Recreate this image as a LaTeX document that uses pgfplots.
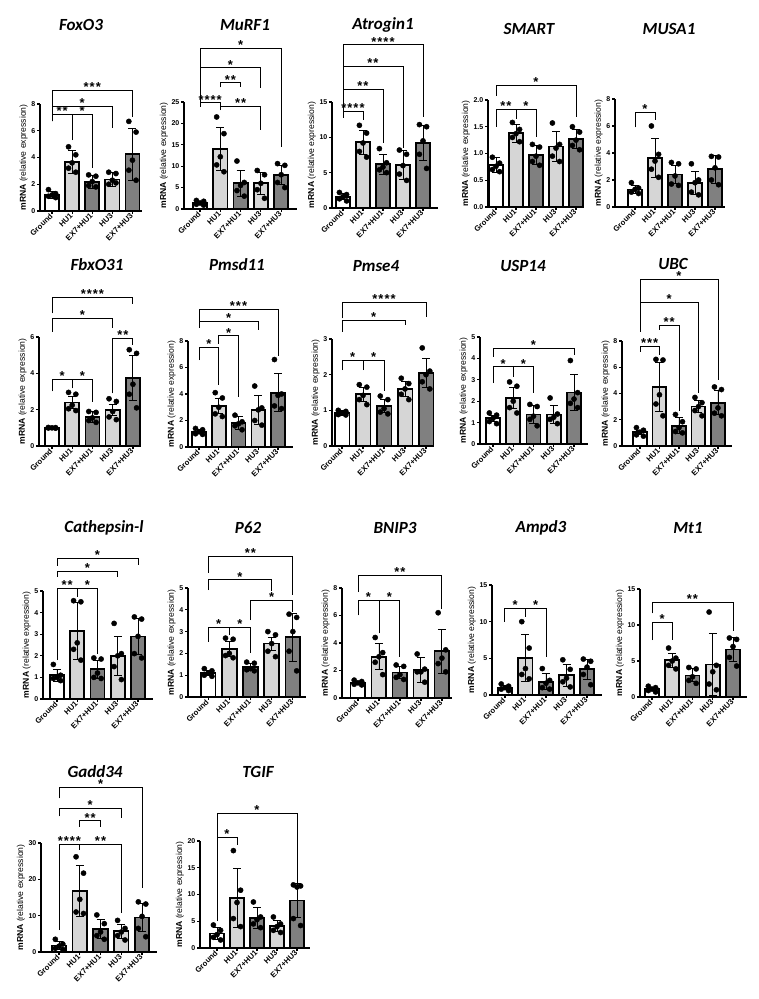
\documentclass[border=0pt]{standalone}
\usepackage{fontspec}
\setmainfont{Liberation Sans}
\newfontfamily\titlefont{Carlito}
\usepackage{pgfplots}
\pgfplotsset{compat=1.18}
\definecolor{lg}{gray}{0.84}
\definecolor{dg}{gray}{0.5}
\pgfplotsset{
  panel/.style={
    scale only axis, clip=false, axis lines=left, anchor=south west,
    axis line style={-, line width=1.5pt},
    enlargelimits=false, ymin=0,
    xtick={0,1,2,3,4},
    xticklabels={Ground,HU1,EX7+HU1,HU3,EX7+HU3},
    x tick label style={rotate=45, anchor=east, font=\fontsize{7.7}{8}\selectfont\bfseries, inner sep=1pt},
    y tick label style={font=\fontsize{7}{8}\selectfont\bfseries, inner sep=1.5pt},
    /pgf/number format/assume math mode=true,
    tick align=outside, major tick length=3pt,
    tick style={line width=1.2pt, black},
    ylabel={\textbf{mRNA} (relative expression)},
    ylabel style={font=\fontsize{8.6}{10}\selectfont, inner sep=2pt},
  },
  barbase/.style={ybar, bar width=0.7, bar shift=0pt, draw=black, line width=1.7pt,
    error bars/.cd, y dir=both, y explicit,
    error bar style={line width=0.9pt, black},
    error mark options={rotate=90, mark size=4pt, line width=0.9pt, black}},
  bw/.style={fill=white, barbase},
  bl/.style={fill=lg, barbase},
  bd/.style={fill=dg, barbase},
  dots/.style={only marks, mark=*, mark size=2.6pt, black, mark options={fill=black}},
  brk/.style={black, line width=0.9pt, mark=none, sharp plot},
}
\tikzset{lab/.style={anchor=south, inner sep=0pt, yshift=-1.5pt, font=\fontsize{13}{13}\selectfont\bfseries},
  ttl/.style={font=\titlefont\bfseries\itshape\fontsize{17}{17}\selectfont}}
\newcommand\br[7]{%
  \addplot[brk] coordinates {(#1,#4) (#1,#3) (#2,#3) (#2,#5)};
  \node[lab] at (axis cs:#6,#3) {#7};}
\newcommand\sA{*}
\newcommand\sB{*\kern1pt*}
\newcommand\sC{*\kern1pt*\kern1pt*}
\newcommand\sD{*\kern1pt*\kern1pt*\kern1pt*}
\begin{document}
\begin{tikzpicture}
\useasboundingbox (0pt,0pt) rectangle (759pt,999pt);
% ---------------- Row 1
\node[ttl] at (81pt,974pt) {FoxO3};
\begin{axis}[panel, at={(40pt,788pt)}, width=102pt, height=107pt, xmin=-0.6, xmax=4.475, ymax=8, ytick={0,2,4,6,8}]
\addplot[bw] coordinates {(0,1.2) +- (0,0.25)};
\addplot[bl] coordinates {(1,3.65) +- (0,0.85) (3,2.35) +- (0,0.5)};
\addplot[bd] coordinates {(2,2.15) +- (0,0.5) (4,4.25) +- (0,1.95)};
\addplot[dots] coordinates {(-0.18,1.6)(0.18,1.3)(0,1.2)(-0.18,1.1)(0.18,1.0)
(0.82,4.8)(1.18,4.2)(1,3.6)(0.82,3.2)(1.18,2.9)
(1.82,2.7)(2.18,2.6)(2,2.2)(1.82,1.9)(2.18,1.8)
(2.82,2.9)(3.18,2.8)(3,2.3)(2.82,2.0)(3.18,2.1)
(3.82,6.7)(4.18,5.9)(4,3.8)(3.82,3.05)(4.18,2.3)};
\br{0}{4}{9.0}{6.7}{7.0}{2}{\sC}
\br{0}{3}{7.85}{6.7}{6.2}{1.5}{\sA}
\br{0}{1}{7.25}{6.7}{5.3}{0.5}{\sB}
\br{1}{2}{7.25}{5.3}{3.2}{1.5}{\sA}
\end{axis}
\node[ttl] at (245pt,974pt) {MuRF1};
\begin{axis}[panel, at={(184pt,790pt)}, width=113pt, height=107pt, xmin=-0.79, xmax=4.78, ymax=25, ytick={0,5,10,15,20,25}]
\addplot[bw] coordinates {(0,1.4) +- (0,0.4)};
\addplot[bl] coordinates {(1,14.0) +- (0,5.1) (3,6.0) +- (0,2.5)};
\addplot[bd] coordinates {(2,6.0) +- (0,3.0) (4,8.0) +- (0,2.2)};
\addplot[dots] coordinates {(-0.18,2.0)(0.18,1.8)(0,1.4)(-0.18,1.1)(0.18,0.9)
(0.82,21.5)(1.18,17.6)(1,12.2)(0.82,10.3)(1.18,8.7)
(1.82,11.2)(2.18,6.2)(2,5.5)(1.82,4.3)(2.18,3.0)
(2.82,9.0)(3.18,8.0)(3,6.0)(2.82,4.5)(3.18,2.5)
(3.82,10.6)(4.18,10.2)(4,8.0)(3.82,6.2)(4.18,5.0)};
\br{0}{4}{37.5}{24.7}{14.6}{2}{\sA}
\br{0}{3}{33}{24.7}{28.2}{1.5}{\sA}
\br{1}{2}{29.5}{28.4}{28.4}{1.5}{\sB}
\br{0}{1}{24.8}{23.9}{23.1}{0.5}{\sD}
\br{1}{3}{24.0}{23.1}{18.5}{2}{\sB}
\end{axis}
\node[ttl] at (383pt,974pt) {Atrogin1};
\begin{axis}[panel, at={(332pt,791pt)}, width=106pt, height=106pt, xmin=-0.55, xmax=4.75, ymax=15, ytick={0,5,10,15}]
\addplot[bw] coordinates {(0,1.6) +- (0,0.4)};
\addplot[bl] coordinates {(1,9.3) +- (0,1.7) (3,6.1) +- (0,2.0)};
\addplot[bd] coordinates {(2,6.2) +- (0,1.4) (4,9.2) +- (0,2.5)};
\addplot[dots] coordinates {(-0.18,2.2)(0.18,1.9)(0,1.6)(-0.18,1.3)(0.18,1.0)
(0.82,11.7)(1.18,10.6)(1,9.2)(0.82,8.0)(1.18,7.2)
(1.82,8.4)(2.18,6.4)(2,5.8)(1.82,5.4)(2.18,5.0)
(2.82,8.2)(3.18,7.6)(3,6.0)(2.82,4.8)(3.18,3.9)
(3.82,11.8)(4.18,11.5)(4,9.5)(3.82,7.6)(4.18,5.6)};
\br{0}{4}{23.1}{12.8}{12.9}{2}{\sD}
\br{0}{3}{20.0}{12.8}{8.5}{1.5}{\sB}
\br{0}{2}{16.8}{12.8}{9.2}{1}{\sB}
\br{0}{1}{13.7}{12.8}{12.4}{0.5}{\sD}
\end{axis}
\node[ttl] at (529pt,970pt) {SMART};
\begin{axis}[panel, at={(488pt,792pt)}, width=96pt, height=107pt, xmin=-0.4, xmax=4.4, ymax=2, ytick={0,0.5,1,1.5,2},
  yticklabel style={/pgf/number format/.cd, fixed, fixed zerofill, precision=1}]
\addplot[bw] coordinates {(0,0.78) +- (0,0.14)};
\addplot[bl] coordinates {(1,1.38) +- (0,0.17) (3,1.13) +- (0,0.28)};
\addplot[bd] coordinates {(2,0.97) +- (0,0.18) (4,1.27) +- (0,0.18)};
\addplot[dots] coordinates {(-0.18,0.93)(0.18,0.82)(0,0.76)(-0.18,0.7)(0.18,0.66)
(0.82,1.58)(1.18,1.45)(1,1.37)(0.82,1.3)(1.18,1.22)
(1.82,1.17)(2.18,1.12)(2,0.95)(1.82,0.85)(2.18,0.78)
(2.82,1.57)(3.18,1.17)(3,1.1)(2.82,0.95)(3.18,0.85)
(3.82,1.5)(4.18,1.4)(4,1.25)(3.82,1.15)(4.18,1.07)};
\br{0}{4}{2.28}{2.08}{1.68}{2}{\sA}
\br{0}{1}{1.83}{1.5}{1.65}{0.5}{\sB}
\br{1}{2}{1.83}{1.65}{1.3}{1.5}{\sA}
\end{axis}
\node[ttl] at (669pt,970pt) {MUSA1};
\begin{axis}[panel, at={(615pt,792pt)}, width=110pt, height=108pt, xmin=-1.0, xmax=4.5, ymax=8, ytick={0,2,4,6,8}]
\addplot[bw] coordinates {(0,1.3) +- (0,0.3)};
\addplot[bl] coordinates {(1,3.65) +- (0,1.45) (3,1.8) +- (0,0.85)};
\addplot[bd] coordinates {(2,2.4) +- (0,0.65) (4,2.8) +- (0,1.05)};
\addplot[dots] coordinates {(-0.18,1.8)(0.18,1.4)(0,1.3)(-0.18,1.1)(0.18,1.0)
(0.82,6.0)(1.18,3.9)(1,3.4)(0.82,2.8)(1.18,2.2)
(1.82,3.3)(2.18,3.2)(2,2.3)(1.82,1.7)(2.18,1.6)
(2.82,3.2)(3.18,2.0)(3,1.8)(2.82,1.1)(3.18,0.9)
(3.82,3.75)(4.18,3.7)(4,2.9)(3.82,2.0)(4.18,1.65)};
\br{0}{1}{7.0}{5.9}{6.45}{0.5}{\sA}
\end{axis}
% ---------------- Row 2
\node[ttl] at (97pt,734pt) {FbxO31};
\begin{axis}[panel, at={(39pt,553pt)}, width=100pt, height=109pt, xmin=-0.64, xmax=4.3, ymax=6, ytick={0,2,4,6}]
\addplot[bw] coordinates {(0,1.0) +- (0,0.03)};
\addplot[bl] coordinates {(1,2.4) +- (0,0.35) (3,2.0) +- (0,0.3)};
\addplot[bd] coordinates {(2,1.6) +- (0,0.3) (4,3.75) +- (0,1.25)};
\addplot[dots] coordinates {(-0.18,1.02)(0.18,1.01)(0,1.0)(-0.18,0.99)(0.18,0.98)
(0.82,2.95)(1.18,2.85)(1,2.25)(0.82,2.05)(1.18,1.95)
(1.82,1.9)(2.18,1.85)(2,1.55)(1.82,1.4)(2.18,1.3)
(2.82,2.6)(3.18,2.45)(3,1.9)(2.82,1.6)(3.18,1.45)
(3.82,5.3)(4.18,5.1)(4,3.4)(3.82,2.85)(4.18,2.1)};
\br{0}{4}{8.2}{7.3}{7.8}{2}{\sD}
\br{0}{3}{7.03}{6.3}{6.5}{1.5}{\sA}
\br{3}{4}{5.93}{2.9}{5.55}{3.5}{\sB}
\br{0}{1}{3.69}{3.0}{3.17}{0.5}{\sA}
\br{1}{2}{3.69}{3.17}{2.44}{1.5}{\sA}
\end{axis}
\node[ttl] at (237pt,734pt) {Pmsd11};
\begin{axis}[panel, at={(188pt,552pt)}, width=105pt, height=106pt, xmin=-0.56, xmax=4.76, ymax=8, ytick={0,2,4,6,8}]
\addplot[bw] coordinates {(0,1.15) +- (0,0.15)};
\addplot[bl] coordinates {(1,3.1) +- (0,0.6) (3,2.8) +- (0,1.1)};
\addplot[bd] coordinates {(2,1.8) +- (0,0.5) (4,4.1) +- (0,1.45)};
\addplot[dots] coordinates {(-0.18,1.4)(0.18,1.3)(0,1.15)(-0.18,1.0)(0.18,0.95)
(0.82,4.1)(1.18,3.7)(1,3.0)(0.82,2.5)(1.18,2.3)
(1.82,2.4)(2.18,1.9)(2,1.75)(1.82,1.6)(2.18,1.3)
(2.82,4.6)(3.18,2.95)(3,2.8)(2.82,2.0)(3.18,1.65)
(3.82,6.6)(4.18,4.0)(4,3.9)(3.82,3.1)(4.18,2.9)};
\br{0}{4}{10.4}{9.0}{6.9}{2}{\sC}
\br{0}{3}{9.5}{9.0}{8.8}{1.5}{\sA}
\br{1}{2}{8.4}{7.8}{3.8}{1.5}{\sA}
\br{0}{1}{7.52}{6.56}{4.7}{0.5}{\sA}
\end{axis}
\node[ttl] at (376pt,733pt) {Pmse4};
\begin{axis}[panel, at={(332pt,553pt)}, width=102pt, height=107pt, xmin=-0.48, xmax=4.38, ymax=3, ytick={0,1,2,3}]
\addplot[bw] coordinates {(0,0.93) +- (0,0.07)};
\addplot[bl] coordinates {(1,1.45) +- (0,0.2) (3,1.6) +- (0,0.2)};
\addplot[bd] coordinates {(2,1.12) +- (0,0.18) (4,2.05) +- (0,0.4)};
\addplot[dots] coordinates {(-0.18,1.0)(0.18,0.97)(0,0.93)(-0.18,0.88)(0.18,0.87)
(0.82,1.72)(1.18,1.65)(1,1.42)(0.82,1.3)(1.18,1.16)
(1.82,1.4)(2.18,1.3)(2,1.05)(1.82,0.95)(2.18,0.9)
(2.82,1.9)(3.18,1.75)(3,1.6)(2.82,1.45)(3.18,1.3)
(3.82,2.75)(4.18,2.1)(4,2.0)(3.82,1.8)(4.18,1.6)};
\br{0}{4}{4.02}{3.58}{3.63}{2}{\sD}
\br{0}{3}{3.53}{3.2}{3.39}{1.5}{\sA}
\br{0}{1}{2.41}{2.13}{2.13}{0.5}{\sA}
\br{1}{2}{2.41}{2.13}{1.55}{1.5}{\sA}
\end{axis}
\node[ttl] at (523pt,733pt) {USP14};
\begin{axis}[panel, at={(480pt,555pt)}, width=108pt, height=107pt, xmin=-0.64, xmax=4.69, ymax=5, ytick={0,1,2,3,4,5}]
\addplot[bw] coordinates {(0,1.2) +- (0,0.15)};
\addplot[bl] coordinates {(1,2.15) +- (0,0.5) (3,1.38) +- (0,0.42)};
\addplot[bd] coordinates {(2,1.38) +- (0,0.42) (4,2.4) +- (0,0.85)};
\addplot[dots] coordinates {(-0.18,1.45)(0.18,1.35)(0,1.2)(-0.18,1.05)(0.18,0.95)
(0.82,2.9)(1.18,2.7)(1,2.0)(0.82,1.7)(1.18,1.45)
(1.82,1.85)(2.18,1.75)(2,1.3)(1.82,1.15)(2.18,0.85)
(2.82,2.15)(3.18,1.4)(3,1.25)(2.82,1.15)(3.18,0.95)
(3.82,3.9)(4.18,2.4)(4,2.1)(3.82,1.9)(4.18,1.7)};
\br{0}{4}{4.47}{4.08}{4.16}{2}{\sA}
\br{0}{1}{3.61}{2.84}{3.15}{0.5}{\sA}
\br{1}{2}{3.61}{3.15}{2.4}{1.5}{\sA}
\end{axis}
\node[ttl] at (673pt,735pt) {UBC};
\begin{axis}[panel, at={(622pt,553pt)}, width=110pt, height=105pt, xmin=-0.92, xmax=4.72, ymax=8, ytick={0,2,4,6,8}]
\addplot[bw] coordinates {(0,1.05) +- (0,0.15)};
\addplot[bl] coordinates {(1,4.5) +- (0,1.85) (3,3.0) +- (0,0.45)};
\addplot[bd] coordinates {(2,1.55) +- (0,0.6) (4,3.3) +- (0,0.9)};
\addplot[dots] coordinates {(-0.18,1.4)(0.18,1.2)(0,1.05)(-0.18,0.85)(0.18,0.75)
(0.82,6.6)(1.18,6.55)(1,3.9)(0.82,3.2)(1.18,2.3)
(1.82,2.4)(2.18,1.85)(2,1.4)(1.82,1.1)(2.18,1.0)
(2.82,3.7)(3.18,3.3)(3,3.0)(2.82,2.7)(3.18,2.3)
(3.82,4.5)(4.18,4.3)(4,2.9)(3.82,2.5)(4.18,2.3)};
\br{0}{4}{12.7}{8.7}{5.0}{2}{\sA}
\br{0}{3}{10.95}{8.7}{4.0}{1.5}{\sA}
\br{1}{2}{9.2}{8.85}{2.7}{1.5}{\sB}
\br{0}{1}{7.58}{7.2}{6.95}{0.5}{\sC}
\end{axis}
% ---------------- Row 3
\node[ttl] at (104pt,471pt) {Cathepsin-l};
\begin{axis}[panel, at={(43pt,300pt)}, width=110pt, height=108pt, xmin=-0.69, xmax=4.74, ymax=5, ytick={0,1,2,3,4,5}]
\addplot[bw] coordinates {(0,1.1) +- (0,0.28)};
\addplot[bl] coordinates {(1,3.15) +- (0,1.3) (3,2.0) +- (0,0.9)};
\addplot[bd] coordinates {(2,1.38) +- (0,0.42) (4,2.9) +- (0,0.85)};
\addplot[dots] coordinates {(-0.18,1.6)(0.18,1.1)(0,1.0)(-0.18,0.95)(0.18,0.85)
(0.82,4.55)(1.18,4.5)(1,2.6)(0.82,2.3)(1.18,1.8)
(1.82,1.9)(2.18,1.85)(2,1.2)(1.82,1.0)(2.18,0.95)
(2.82,3.5)(3.18,2.1)(3,2.0)(2.82,1.5)(3.18,0.9)
(3.82,3.8)(4.18,3.7)(4,2.9)(3.82,2.1)(4.18,1.9)};
\br{0}{4}{6.5}{6.16}{6.2}{2}{\sA}
\br{0}{3}{5.9}{5.66}{5.66}{1.5}{\sA}
\br{0}{1}{5.12}{1.8}{4.74}{0.5}{\sB}
\br{1}{2}{5.12}{4.74}{2.1}{1.5}{\sA}
\end{axis}
\node[ttl] at (248pt,471pt) {P62};
\begin{axis}[panel, at={(188pt,302pt)}, width=118pt, height=109pt, xmin=-0.95, xmax=4.62, ymax=5, ytick={0,1,2,3,4,5}]
\addplot[bw] coordinates {(0,1.1) +- (0,0.1)};
\addplot[bl] coordinates {(1,2.2) +- (0,0.35) (3,2.45) +- (0,0.3)};
\addplot[bd] coordinates {(2,1.38) +- (0,0.17) (4,2.75) +- (0,1.1)};
\addplot[dots] coordinates {(-0.18,1.3)(0.18,1.2)(0,1.1)(-0.18,1.0)(0.18,0.95)
(0.82,2.7)(1.18,2.65)(1,2.0)(0.82,1.9)(1.18,1.8)
(1.82,1.6)(2.18,1.55)(2,1.3)(1.82,1.25)(2.18,1.2)
(2.82,3.0)(3.18,2.85)(3,2.45)(2.82,2.1)(3.18,1.85)
(3.82,3.8)(4.18,3.65)(4,3.0)(3.82,2.1)(4.18,1.2)};
\br{0}{4}{6.47}{5.7}{4.7}{2}{\sB}
\br{0}{3}{5.37}{4.9}{4.85}{1.5}{\sA}
\br{2}{4}{4.45}{3.53}{3.91}{3}{\sA}
\br{0}{1}{3.19}{2.54}{2.84}{0.5}{\sA}
\br{1}{2}{3.19}{2.84}{2.0}{1.5}{\sA}
\end{axis}
\node[ttl] at (395pt,471pt) {BNIP3};
\begin{axis}[panel, at={(342pt,301pt)}, width=110pt, height=110pt, xmin=-0.76, xmax=4.48, ymax=8, ytick={0,2,4,6,8}]
\addplot[bw] coordinates {(0,1.1) +- (0,0.1)};
\addplot[bl] coordinates {(1,3.0) +- (0,0.95) (3,2.05) +- (0,0.9)};
\addplot[bd] coordinates {(2,1.85) +- (0,0.45) (4,3.4) +- (0,1.6)};
\addplot[dots] coordinates {(-0.18,1.3)(0.18,1.2)(0,1.1)(-0.18,1.0)(0.18,0.95)
(0.82,4.4)(1.18,3.3)(1,3.0)(0.82,2.6)(1.18,1.7)
(1.82,2.4)(2.18,2.3)(2,1.7)(1.82,1.5)(2.18,1.35)
(2.82,3.2)(3.18,2.1)(3,1.9)(2.82,1.9)(3.18,1.15)
(3.82,6.2)(4.18,3.5)(4,2.9)(3.82,2.5)(4.18,1.9)};
\br{0}{4}{8.9}{7.7}{6.5}{2}{\sB}
\br{0}{1}{7.1}{6.0}{4.7}{0.5}{\sA}
\br{1}{2}{7.1}{4.7}{3.0}{1.5}{\sA}
\end{axis}
\node[ttl] at (541pt,471pt) {Ampd3};
\begin{axis}[panel, at={(492pt,304pt)}, width=110pt, height=110pt, xmin=-0.63, xmax=4.73, ymax=15, ytick={0,5,10,15}]
\addplot[bw] coordinates {(0,1.0) +- (0,0.3)};
\addplot[bl] coordinates {(1,5.0) +- (0,3.2) (3,2.7) +- (0,1.5)};
\addplot[bd] coordinates {(2,1.8) +- (0,1.1) (4,3.5) +- (0,1.4)};
\addplot[dots] coordinates {(-0.18,1.5)(0.18,1.2)(0,1.0)(-0.18,0.8)(0.18,0.6)
(0.82,10.0)(1.18,6.4)(1,3.6)(0.82,2.8)(1.18,2.2)
(1.82,3.6)(2.18,2.0)(2,1.6)(1.82,1.0)(2.18,0.8)
(2.82,4.8)(3.18,3.5)(3,2.3)(2.82,1.8)(3.18,1.1)
(3.82,4.9)(4.18,4.6)(4,3.8)(3.82,2.8)(4.18,1.4)};
\br{0}{1}{11.8}{10.0}{10.7}{0.5}{\sA}
\br{1}{2}{11.8}{10.7}{5.2}{1.5}{\sA}
\end{axis}
\node[ttl] at (688pt,471pt) {Mt1};
\begin{axis}[panel, at={(640pt,302pt)}, width=107pt, height=108pt, xmin=-0.59, xmax=4.69, ymax=15, ytick={0,5,10,15}]
\addplot[bw] coordinates {(0,1.1) +- (0,0.2)};
\addplot[bl] coordinates {(1,5.1) +- (0,1.0) (3,4.5) +- (0,4.3)};
\addplot[bd] coordinates {(2,3.0) +- (0,0.9) (4,6.6) +- (0,1.7)};
\addplot[dots] coordinates {(-0.18,1.5)(0.18,1.3)(0,1.1)(-0.18,0.9)(0.18,0.7)
(0.82,6.8)(1.18,5.4)(1,5.0)(0.82,4.4)(1.18,3.9)
(1.82,4.1)(2.18,3.9)(2,2.8)(1.82,2.3)(2.18,1.9)
(2.82,11.8)(3.18,4.4)(3,3.5)(2.82,1.8)(3.18,1.0)
(3.82,8.2)(4.18,8.0)(4,7.0)(3.82,5.5)(4.18,4.3)};
\br{0}{4}{13.2}{11.6}{9.1}{2}{\sB}
\br{0}{1}{10.4}{7.9}{7.9}{0.5}{\sA}
\end{axis}
% ---------------- Row 4
\node[ttl] at (95pt,227pt) {Gadd34};
\begin{axis}[panel, at={(41pt,47pt)}, width=116pt, height=109pt, xmin=-0.87, xmax=4.72, ymax=30, ytick={0,10,20,30}]
\addplot[bw] coordinates {(0,1.8) +- (0,1.1)};
\addplot[bl] coordinates {(1,16.8) +- (0,7.0) (3,5.7) +- (0,2.0)};
\addplot[bd] coordinates {(2,6.3) +- (0,2.7) (4,9.5) +- (0,3.9)};
\addplot[dots] coordinates {(-0.18,3.5)(0.18,2.2)(0,1.6)(-0.18,1.0)(0.18,0.7)
(0.82,26.2)(1.18,21.7)(1,14.5)(0.82,11.0)(1.18,10.6)
(1.82,10.2)(2.18,7.8)(2,5.5)(1.82,4.5)(2.18,3.5)
(2.82,8.7)(3.18,6.5)(3,5.5)(2.82,4.5)(3.18,3.3)
(3.82,13.8)(4.18,13.2)(4,9.8)(3.82,6.5)(4.18,4.2)};
\br{0}{4}{45.3}{42.3}{17.5}{2}{\sA}
\br{0}{3}{39.6}{37.3}{36.8}{1.5}{\sA}
\br{1}{2}{36.1}{34.5}{34.5}{1.5}{\sB}
\br{0}{1}{29.7}{6.0}{28.1}{0.5}{\sD}
\br{1}{3}{29.7}{28.1}{10.7}{2}{\sB}
\end{axis}
\node[ttl] at (258pt,227pt) {TGIF};
\begin{axis}[panel, at={(200pt,51pt)}, width=110pt, height=107pt, xmin=-0.85, xmax=4.65, ymax=20, ytick={0,5,10,15,20}]
\addplot[bw] coordinates {(0,2.7) +- (0,1.1)};
\addplot[bl] coordinates {(1,9.4) +- (0,5.5) (3,4.1) +- (0,1.0)};
\addplot[bd] coordinates {(2,5.6) +- (0,2.0) (4,8.9) +- (0,3.1)};
\addplot[dots] coordinates {(-0.18,4.3)(0.18,3.3)(0,2.5)(-0.18,2.0)(0.18,1.5)
(0.82,18.2)(1.18,10.8)(1,8.5)(0.82,5.5)(1.18,4.0)
(1.82,8.6)(2.18,5.8)(2,5.3)(1.82,4.5)(2.18,3.8)
(2.82,5.8)(3.18,4.5)(3,4.0)(2.82,3.3)(3.18,2.9)
(3.82,11.8)(4.18,11.6)(4,11.4)(3.82,5.5)(4.18,4.2)};
\br{0}{4}{25.2}{5.0}{11.8}{2}{\sA}
\br{0}{1}{20.7}{5.0}{19.25}{0.5}{\sA}
\end{axis}
\end{tikzpicture}
\end{document}
